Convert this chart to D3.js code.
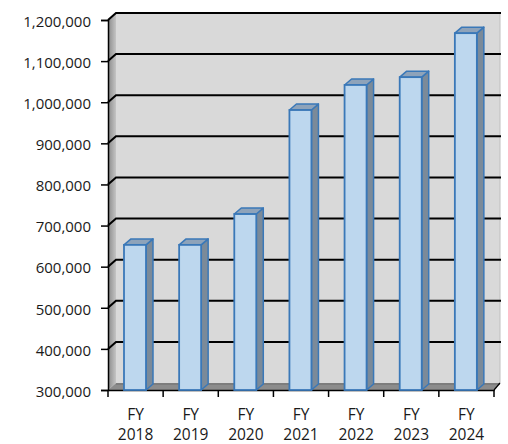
<!DOCTYPE html>
<html>
<head>
<meta charset="utf-8">
<script src="https://cdn.jsdelivr.net/npm/d3@7"></script>
<style>
  html, body { margin: 0; padding: 0; background: #ffffff; }
  svg { display: block; }
  text { font-family: "Open Sans", Lato, sans-serif; fill: #1a1a1a; }
</style>
</head>
<body>
<svg id="chart" width="508" height="444"></svg>
<script>
// Fiscal-year totals
const years = ["2018", "2019", "2020", "2021", "2022", "2023", "2024"];
const categoryPrefix = "FY";
const totals = [653000, 653000, 728000, 981000, 1042000, 1061000, 1168000];
const yTicks = [300000, 400000, 500000, 600000, 700000, 800000, 900000, 1000000, 1100000, 1200000];

(function draw() {
  const svg = d3.select("#chart");

  // Plot frame (front plane) and 3-D depth offset
  const plotLeft = 108, plotRight = 494, plotTop = 20, plotBottom = 390;
  const depthX = 8, depthY = 7;

  const y = d3.scaleLinear().domain([300000, 1200000]).range([plotBottom, plotTop]);
  const x = d3.scaleBand().domain(years).range([plotLeft, plotRight]).paddingInner(0).paddingOuter(0);

  const defs = svg.append("defs");
  const sideGrad = defs.append("linearGradient").attr("id", "sideWall")
    .attr("x1", "0").attr("x2", "1").attr("y1", "0").attr("y2", "0");
  sideGrad.append("stop").attr("offset", "0").attr("stop-color", "#8a8a8a");
  sideGrad.append("stop").attr("offset", "1").attr("stop-color", "#c4c4c4");

  const wallRight = plotRight + 6;

  // Back wall
  svg.append("rect")
    .attr("x", plotLeft + depthX).attr("y", plotTop - depthY)
    .attr("width", wallRight - (plotLeft + depthX)).attr("height", plotBottom - plotTop)
    .attr("fill", "#d9d9d9");
  svg.append("line")
    .attr("x1", wallRight).attr("x2", wallRight)
    .attr("y1", plotTop - depthY).attr("y2", plotBottom - depthY)
    .attr("stroke", "#bfbfbf").attr("stroke-width", 1);

  // Side wall
  svg.append("path")
    .attr("d", `M${plotLeft},${plotTop} L${plotLeft + depthX},${plotTop - depthY} L${plotLeft + depthX},${plotBottom - depthY} L${plotLeft},${plotBottom} Z`)
    .attr("fill", "url(#sideWall)");

  // Floor
  svg.append("path")
    .attr("d", `M${plotLeft},${plotBottom} L${plotLeft + depthX},${plotBottom - depthY} L${wallRight},${plotBottom - depthY} L${plotRight},${plotBottom} Z`)
    .attr("fill", "#8c8c8c");
  svg.append("path")
    .attr("d", `M${plotLeft + depthX},${plotBottom - depthY + 1} L${wallRight},${plotBottom - depthY + 1}`)
    .attr("stroke", "#6e6e6e").attr("stroke-width", 1).attr("fill", "none");

  // Gridlines: a diagonal across the side wall, then straight across the back wall
  const grid = svg.append("g");
  yTicks.slice(1).forEach(v => {
    const yy = y(v);
    grid.append("path")
      .attr("d", `M${plotLeft},${yy} L${plotLeft + depthX},${yy - depthY} L${wallRight + 1},${yy - depthY}`)
      .attr("fill", "none").attr("stroke", "#000").attr("stroke-width", 2);
  });

  // Value axis
  const yAxis = d3.axisLeft(y).tickValues(yTicks).tickSize(7).tickPadding(10)
    .tickFormat(d3.format(","));
  const yg = svg.append("g").attr("transform", `translate(${plotLeft},0)`).call(yAxis);
  yg.select(".domain").attr("stroke", "#000").attr("stroke-width", 1.5);
  yg.selectAll(".tick line").attr("stroke", "#000").attr("stroke-width", 1.5);
  yg.selectAll(".tick text").attr("font-size", "15px").attr("font-family", "'Open Sans', Lato, sans-serif")
    .attr("fill", "#1a1a1a").attr("dy", "0.42em");

  // Category axis
  const xAxis = d3.axisBottom(x).tickSize(0).tickFormat(() => "");
  const xg = svg.append("g").attr("transform", `translate(0,${plotBottom})`).call(xAxis);
  xg.select(".domain").attr("stroke", "#000").attr("stroke-width", 1.5);
  const boundaries = years.map(d => x(d)).concat([x(years[years.length - 1]) + x.bandwidth()]);
  xg.selectAll("line.bound").data(boundaries).enter().append("line")
    .attr("class", "bound")
    .attr("x1", d => d).attr("x2", d => d).attr("y1", 0).attr("y2", 7)
    .attr("stroke", "#000").attr("stroke-width", 1.5);
  xg.append("path")
    .attr("d", `M${plotRight},0 L${wallRight},${-depthY}`)
    .attr("stroke", "#000").attr("stroke-width", 1.2).attr("fill", "none");

  const labels = svg.append("g");
  years.forEach(yr => {
    const cx = x(yr) + x.bandwidth() / 2;
    labels.append("text").attr("x", cx).attr("y", 420).attr("text-anchor", "middle")
      .attr("font-size", "15.5px").text(categoryPrefix);
    labels.append("text").attr("x", cx).attr("y", 440).attr("text-anchor", "middle")
      .attr("font-size", "15.5px").text(yr);
  });

  // 3-D columns
  const barW = 22, barOff = 16, bx = 7, by = 6;
  const bars = svg.append("g");
  years.forEach((yr, i) => {
    const x0 = x(yr) + barOff;
    const yt = y(totals[i]);
    const g = bars.append("g");
    // side face
    g.append("path")
      .attr("d", `M${x0 + barW},${yt} L${x0 + barW + bx},${yt - by} L${x0 + barW + bx},${plotBottom - by} L${x0 + barW},${plotBottom} Z`)
      .attr("fill", "#7b8a99").attr("stroke", "#3a78b8").attr("stroke-width", 1.5).attr("stroke-linejoin", "round");
    // top face
    g.append("path")
      .attr("d", `M${x0},${yt} L${x0 + bx},${yt - by} L${x0 + barW + bx},${yt - by} L${x0 + barW},${yt} Z`)
      .attr("fill", "#8ea3ba").attr("stroke", "#3a78b8").attr("stroke-width", 1.5).attr("stroke-linejoin", "round");
    // front face
    g.append("rect")
      .attr("x", x0).attr("y", yt).attr("width", barW).attr("height", plotBottom - yt)
      .attr("fill", "#bdd7ee").attr("stroke", "#3a78b8").attr("stroke-width", 1.8);
  });
})();
</script>
</body>
</html>
